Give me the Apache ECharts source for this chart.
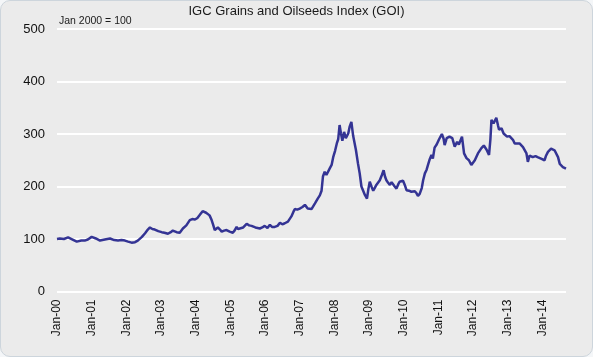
<!DOCTYPE html>
<html>
<head>
<meta charset="utf-8">
<script src="https://cdn.jsdelivr.net/npm/echarts@6/dist/echarts.min.js"></script>
<style>
  html, body { margin: 0; padding: 0; background: #f4f6f8; }
  #wrap { position: absolute; left: 0; top: 0; width: 591px; height: 355px; border: 1px solid #cdd5dc; border-radius: 10px; background: #ebebeb; overflow: hidden; }
  #chart { position: absolute; left: -1px; top: -1px; width: 593px; height: 357px; }
</style>
</head>
<body>
<div id="wrap"><div id="chart"></div></div>
<script>
// Time (decimal years) and index values (Jan 2000 = 100)
const years = [
  2000.00, 2000.08, 2000.20, 2000.32, 2000.45, 2000.57, 2000.70, 2000.80, 2000.89,
  2001.00, 2001.12, 2001.24, 2001.38, 2001.53, 2001.65, 2001.76, 2001.86, 2001.96,
  2002.05, 2002.15, 2002.25, 2002.33, 2002.45, 2002.54, 2002.62, 2002.68, 2002.75, 2002.82, 2002.92,
  2003.02, 2003.10, 2003.20, 2003.28, 2003.34, 2003.45, 2003.54, 2003.63, 2003.73, 2003.83, 2003.90, 2003.98,
  2004.05, 2004.12, 2004.20, 2004.24, 2004.30, 2004.33, 2004.40, 2004.46, 2004.50, 2004.55, 2004.64, 2004.70, 2004.75, 2004.82, 2004.89, 2004.98,
  2005.07, 2005.12, 2005.18, 2005.22, 2005.27, 2005.37, 2005.47, 2005.54, 2005.61, 2005.72, 2005.85, 2005.92, 2005.99,
  2006.07, 2006.14, 2006.20, 2006.28, 2006.36, 2006.43, 2006.50, 2006.57, 2006.66, 2006.76, 2006.82, 2006.86, 2006.93,
  2007.00, 2007.08, 2007.15, 2007.23, 2007.34, 2007.44, 2007.52, 2007.58, 2007.63, 2007.67, 2007.72, 2007.77, 2007.82, 2007.87, 2007.92, 2007.97,
  2008.02, 2008.07, 2008.11, 2008.15, 2008.19, 2008.23, 2008.28, 2008.33, 2008.40, 2008.44, 2008.49, 2008.54, 2008.62, 2008.68, 2008.73, 2008.78, 2008.83, 2008.88, 2008.94, 2008.98,
  2009.02, 2009.07, 2009.12, 2009.17, 2009.21, 2009.26, 2009.31, 2009.37, 2009.42, 2009.46, 2009.50, 2009.55, 2009.60, 2009.65, 2009.69, 2009.74, 2009.79, 2009.84, 2009.88, 2009.93, 2009.98,
  2010.03, 2010.08, 2010.15, 2010.22, 2010.27, 2010.32, 2010.37, 2010.41, 2010.46, 2010.52, 2010.56, 2010.61, 2010.66, 2010.70, 2010.75, 2010.80, 2010.84, 2010.89, 2010.95,
  2011.02, 2011.10, 2011.15, 2011.18, 2011.24, 2011.32, 2011.40, 2011.47, 2011.54, 2011.59, 2011.62, 2011.68, 2011.74, 2011.81, 2011.88, 2011.95,
  2012.00, 2012.05, 2012.14, 2012.24, 2012.31, 2012.39, 2012.46, 2012.50, 2012.53, 2012.59, 2012.67, 2012.72, 2012.75, 2012.82, 2012.88, 2012.98,
  2013.05, 2013.15, 2013.20, 2013.25, 2013.34, 2013.44, 2013.54, 2013.58, 2013.63, 2013.72, 2013.80, 2013.86, 2013.96,
  2014.06, 2014.10, 2014.16, 2014.25, 2014.35, 2014.45, 2014.50, 2014.59, 2014.64, 2014.68
];
const goi = [
  100, 101, 100, 103, 99, 95, 97, 97, 99,
  104, 101, 97, 99, 101, 98, 97, 98, 97,
  95, 93, 94, 97, 104, 111, 118, 122, 119, 118, 115,
  113, 112, 110, 113, 116, 113, 112, 120, 126, 136, 138, 137,
  140, 146, 153, 155, 150, 152, 145, 136, 128, 117, 122, 118, 114, 116, 117, 114,
  112, 116, 123, 119, 118, 122, 129, 126, 125, 122, 120, 122, 125,
  121, 127, 123, 123, 125, 131, 128, 130, 133, 143, 152, 157, 156,
  158, 161, 165, 158, 157, 168, 177, 183, 192, 219, 228, 222, 225, 235, 241, 257,
  268, 282, 290, 317, 301, 287, 304, 292, 301, 314, 323, 297, 270, 244, 225, 200, 192, 184, 177, 195,
  209, 200, 192, 198, 203, 206, 212, 222, 231, 219, 212, 207, 203, 208, 206, 200, 196, 204, 209, 206, 211,
  203, 193, 192, 190, 193, 191, 187, 182, 186, 197, 212, 225, 232, 241, 252, 260, 253, 274, 280,
  290, 300, 291, 279, 292, 295, 292, 276, 285, 280, 282, 295, 263, 254, 250, 241,
  244, 250, 263, 273, 278, 270, 260, 290, 327, 320, 331, 316, 308, 311, 301, 295,
  296, 289, 282, 279, 282, 275, 263, 247, 259, 256, 258, 256, 253,
  250, 258, 266, 272, 269, 256, 243, 237, 238, 234
];
const yTicks = [0, 100, 200, 300, 400, 500];
const titleText = 'IGC Grains and Oilseeds Index (GOI)';
const baseText = 'Jan 2000 = 100';

const chart = echarts.init(document.getElementById('chart'), null, { renderer: 'canvas' });
chart.setOption({
  animation: false,
  backgroundColor: 'transparent',
  textStyle: { fontFamily: 'Liberation Sans, Arial, sans-serif' },
  title: [
    { text: titleText, left: 'center', top: 0,
      textStyle: { fontSize: 13, fontWeight: 'normal', color: '#1a1a1a', fontFamily: 'Liberation Sans, Arial, sans-serif' } },
    { text: baseText, left: 54, top: 11,
      textStyle: { fontSize: 10.5, fontWeight: 'normal', color: '#1a1a1a', fontFamily: 'Liberation Sans, Arial, sans-serif' } }
  ],
  grid: { left: 57, right: 27, top: 29, bottom: 65.5, containLabel: false },
  xAxis: {
    type: 'value',
    min: 2000, max: years[years.length - 1], interval: 1,
    axisLine: { show: false }, axisTick: { show: false }, splitLine: { show: false },
    axisLabel: {
      rotate: 90, margin: 8, fontSize: 12, color: '#111',
      showMaxLabel: false,
      formatter: function (v) {
        if (Math.abs(v - Math.round(v)) > 1e-6) return '';
        const yy = String(Math.round(v) % 100).padStart(2, '0');
        return 'Jan-' + yy;
      }
    }
  },
  yAxis: {
    type: 'value',
    min: yTicks[0], max: yTicks[yTicks.length - 1], interval: 100,
    axisLine: { show: false }, axisTick: { show: false },
    splitLine: { show: true, lineStyle: { color: '#ffffff', width: 2 } },
    axisLabel: { fontSize: 13, color: '#111', margin: 12 }
  },
  series: [{
    type: 'line',
    data: years.map((y, i) => [y, goi[i]]),
    showSymbol: false,
    lineStyle: { color: '#343494', width: 2.5 },
    z: 3
  }]
});
</script>
</body>
</html>
